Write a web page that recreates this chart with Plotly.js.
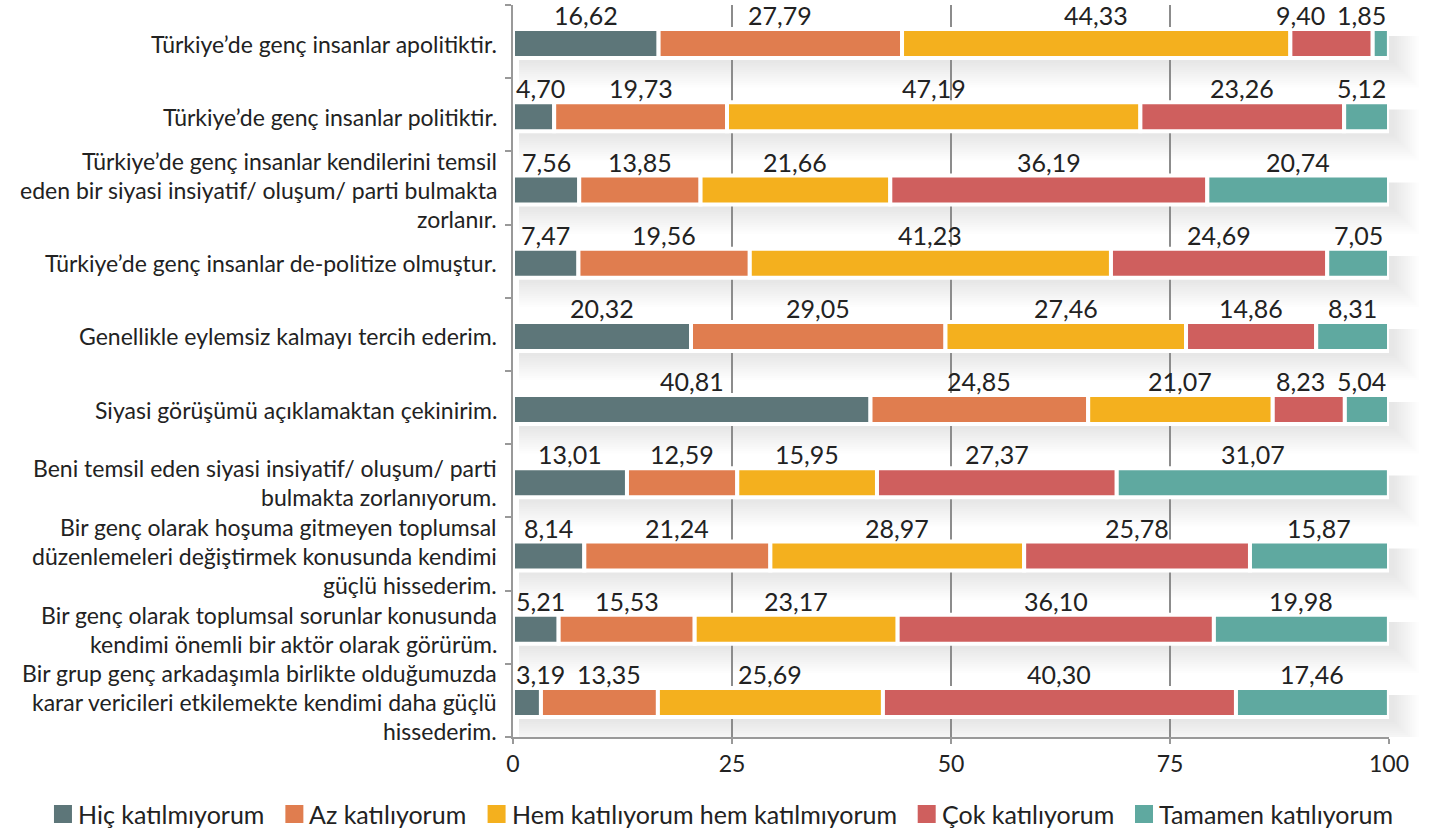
<!DOCTYPE html>
<html>
<head>
<meta charset="utf-8">
<script src="https://cdn.plot.ly/plotly-3.0.1.min.js"></script>
<style>
  html, body { margin: 0; padding: 0; background: #ffffff; }
  #chart { width: 1431px; height: 833px; }
</style>
</head>
<body>
<div id="chart"></div>
<script>
// ---------- DATA ----------
const categories = [
  "Türkiye’de genç insanlar apolitiktir.",
  "Türkiye’de genç insanlar politiktir.",
  "Türkiye’de genç insanlar kendilerini temsil|eden bir siyasi insiyatif/ oluşum/ parti bulmakta|zorlanır.",
  "Türkiye’de genç insanlar de-politize olmuştur.",
  "Genellikle eylemsiz kalmayı tercih ederim.",
  "Siyasi görüşümü açıklamaktan çekinirim.",
  "Beni temsil eden siyasi insiyatif/ oluşum/ parti|bulmakta zorlanıyorum.",
  "Bir genç olarak hoşuma gitmeyen toplumsal|düzenlemeleri değiştirmek konusunda kendimi|güçlü hissederim.",
  "Bir genç olarak toplumsal sorunlar konusunda|kendimi önemli bir aktör olarak görürüm.",
  "Bir grup genç arkadaşımla birlikte olduğumuzda|karar vericileri etkilemekte kendimi daha güçlü|hissederim."
];
const seriesNames = [
  "Hiç katılmıyorum",
  "Az katılıyorum",
  "Hem katılıyorum hem katılmıyorum",
  "Çok katılıyorum",
  "Tamamen katılıyorum"
];
const hicKatilmiyorum = [16.62, 4.70, 7.56, 7.47, 20.32, 40.81, 13.01, 8.14, 5.21, 3.19];
const azKatiliyorum   = [27.79, 19.73, 13.85, 19.56, 29.05, 24.85, 12.59, 21.24, 15.53, 13.35];
const hemHem          = [44.33, 47.19, 21.66, 41.23, 27.46, 21.07, 15.95, 28.97, 23.17, 25.69];
const cokKatiliyorum  = [9.40, 23.26, 36.19, 24.69, 14.86, 8.23, 27.37, 25.78, 36.10, 40.30];
const tamamen         = [1.85, 5.12, 20.74, 7.05, 8.31, 5.04, 31.07, 15.87, 19.98, 17.46];
const xTickVals = [0, 25, 50, 75, 100];
const xTickText = ["0", "25", "50", "75", "100"];

// ---------- STYLE ----------
const colors = ["#5d7679", "#e07d4f", "#f4b01e", "#cf5f5e", "#5fa9a0"];
const FONT = "Lato, 'Open Sans', sans-serif";
const TEXT = "#222222";
const GRID = "#8c8c8c";
const margin = {l: 513, r: 42, t: 5, b: 96};
const W = 1431, H = 833;
const plotW = W - margin.l - margin.r;
const plotH = H - margin.t - margin.b;
const nRows = categories.length;
const pxX = plotW / 100;          // px per x unit
const pxY = plotH / nRows;        // px per row
const barOff = 2 / pxY;           // bar slightly below band centre
const barW = 29 / pxY;            // bar rect incl. white stroke
const bgW = 31 / pxY;             // white backing strip

const series = [hicKatilmiyorum, azKatiliyorum, hemHem, cokKatiliyorum, tamamen];

const canvas = document.createElement("canvas");
const ctx = canvas.getContext("2d");
function textW(str, size) {
  ctx.font = size + "px Lato";
  return ctx.measureText(str).width;
}
function fmt(v) { return v.toFixed(2).replace(".", ","); }

const rowY = categories.map((c, i) => i + barOff);

// cumulative bases
const bases = series.map(() => []);
for (let r = 0; r < nRows; r++) {
  let acc = 0;
  for (let s = 0; s < series.length; s++) {
    bases[s][r] = acc;
    acc += series[s][r];
  }
}

const traces = [];
// white backing strip
traces.push({
  type: "bar", orientation: "h",
  y: rowY, x: rowY.map(() => 100.3), base: rowY.map(() => 0),
  width: bgW, marker: {color: "#ffffff", line: {width: 0}},
  hoverinfo: "skip", showlegend: false, cliponaxis: false
});
series.forEach((vals, s) => {
  traces.push({
    type: "bar", orientation: "h", name: seriesNames[s],
    y: rowY, x: vals, base: bases[s],
    width: barW,
    marker: {color: colors[s], line: {color: "#ffffff", width: 4}},
    hoverinfo: "skip", showlegend: false
  });
});

const annotations = [];
const shapes = [];

// value labels with simple collision avoidance
const LBL = 25;
const gap = 12 / pxX, minL = 0.34, maxR = 99.66;
for (let r = 0; r < nRows; r++) {
  const items = series.map((vals, s) => {
    const t = fmt(vals[r]);
    const w = textW(t, LBL) / pxX;
    const c = bases[s][r] + vals[r] / 2;
    return {t, w, left: c - w / 2};
  });
  for (let i = 0; i < items.length; i++) {
    let L = Math.max(items[i].left, minL);
    if (i > 0) L = Math.max(L, items[i - 1].left + items[i - 1].w + gap);
    items[i].left = L;
  }
  for (let i = items.length - 1; i >= 0; i--) {
    let R = Math.min(items[i].left + items[i].w, maxR);
    if (i < items.length - 1) R = Math.min(R, items[i + 1].left - gap);
    items[i].left = R - items[i].w;
  }
  items.forEach(it => {
    annotations.push({
      xref: "x", yref: "y", x: it.left + it.w / 2, y: rowY[r] - barW / 2,
      xanchor: "center", yanchor: "bottom", yshift: -1,
      text: it.t, showarrow: false, borderpad: 0, borderwidth: 0,
      font: {family: FONT, size: LBL, color: TEXT}
    });
  });
}

// category labels (one annotation per line)
const CAT = 23, LINE = 29;
categories.forEach((c, r) => {
  const lines = c.split("|");
  lines.forEach((ln, j) => {
    annotations.push({
      xref: "paper", yref: "y", x: 0, y: rowY[r],
      xanchor: "right", yanchor: "middle", xshift: -16,
      yshift: -(j - (lines.length - 1) / 2) * LINE,
      text: ln, showarrow: false, borderpad: 0, borderwidth: 0,
      font: {family: FONT, size: CAT, color: TEXT}
    });
  });
});

// soft drop shadows behind strips (stacked faint layers)
const layersN = 12, step = 2.2;
for (let r = 0; r < nRows; r++) {
  const top = rowY[r] - bgW / 2, bot = rowY[r] + bgW / 2;
  const right = 100.3 * pxX;
  for (let k = 1; k <= layersN; k++) {
    shapes.push({
      type: "rect", layer: "below", xref: "paper", yref: "y",
      x0: 6 / plotW, x1: (right + 1 + k * step) / plotW,
      y0: top + 8 / pxY, y1: bot + (2 + k * step) / pxY,
      fillcolor: "rgba(0,0,0,0.0095)", line: {width: 0}
    });
  }
}

// manual legend
const LEG = 25, SQ = 18, SQGAP = 6, ITEMGAP = 21;
const legWidths = seriesNames.map(n => textW(n, LEG));
const totalW = legWidths.reduce((a, b) => a + b, 0) + seriesNames.length * (SQ + SQGAP) + (seriesNames.length - 1) * ITEMGAP;
let lx = 723.5 - totalW / 2;
const legY = 814;
const py = p => (margin.t + plotH - p) / plotH;
const pxp = p => (p - margin.l) / plotW;
seriesNames.forEach((n, s) => {
  shapes.push({
    type: "rect", xref: "paper", yref: "paper",
    x0: pxp(lx), x1: pxp(lx + SQ), y0: py(legY + SQ / 2), y1: py(legY - SQ / 2),
    fillcolor: colors[s], line: {width: 0}
  });
  annotations.push({
    xref: "paper", yref: "paper", x: pxp(lx + SQ + SQGAP), y: py(legY),
    xanchor: "left", yanchor: "middle", text: n, showarrow: false,
    borderpad: 0, borderwidth: 0,
    font: {family: FONT, size: LEG, color: TEXT}
  });
  lx += SQ + SQGAP + legWidths[s] + ITEMGAP;
});

const layout = {
  width: W, height: H,
  margin: margin,
  paper_bgcolor: "#ffffff",
  plot_bgcolor: "rgba(0,0,0,0)",
  barmode: "overlay",
  bargap: 0,
  showlegend: false,
  font: {family: FONT, color: TEXT},
  xaxis: {
    range: [0, 100], tickvals: xTickVals, ticktext: xTickText,
    showgrid: true, gridcolor: GRID, gridwidth: 2,
    showline: true, linecolor: "#999999", linewidth: 2,
    ticks: "outside", ticklen: 5, tickwidth: 2, tickcolor: "#999999",
    tickfont: {family: FONT, size: 23, color: TEXT},
    zeroline: false, fixedrange: true
  },
  yaxis: {
    range: [nRows - 0.5, -0.5],
    tickvals: categories.map((c, i) => i - 0.5).concat([nRows - 0.5]),
    ticktext: categories.map(() => "").concat([""]),
    showgrid: false, zeroline: false,
    showline: true, linecolor: "#999999", linewidth: 2,
    ticks: "outside", ticklen: 6, tickwidth: 2, tickcolor: "#999999",
    fixedrange: true
  },
  annotations: annotations,
  shapes: shapes
};

Plotly.newPlot("chart", traces, layout, {displayModeBar: false, staticPlot: true});
</script>
</body>
</html>
